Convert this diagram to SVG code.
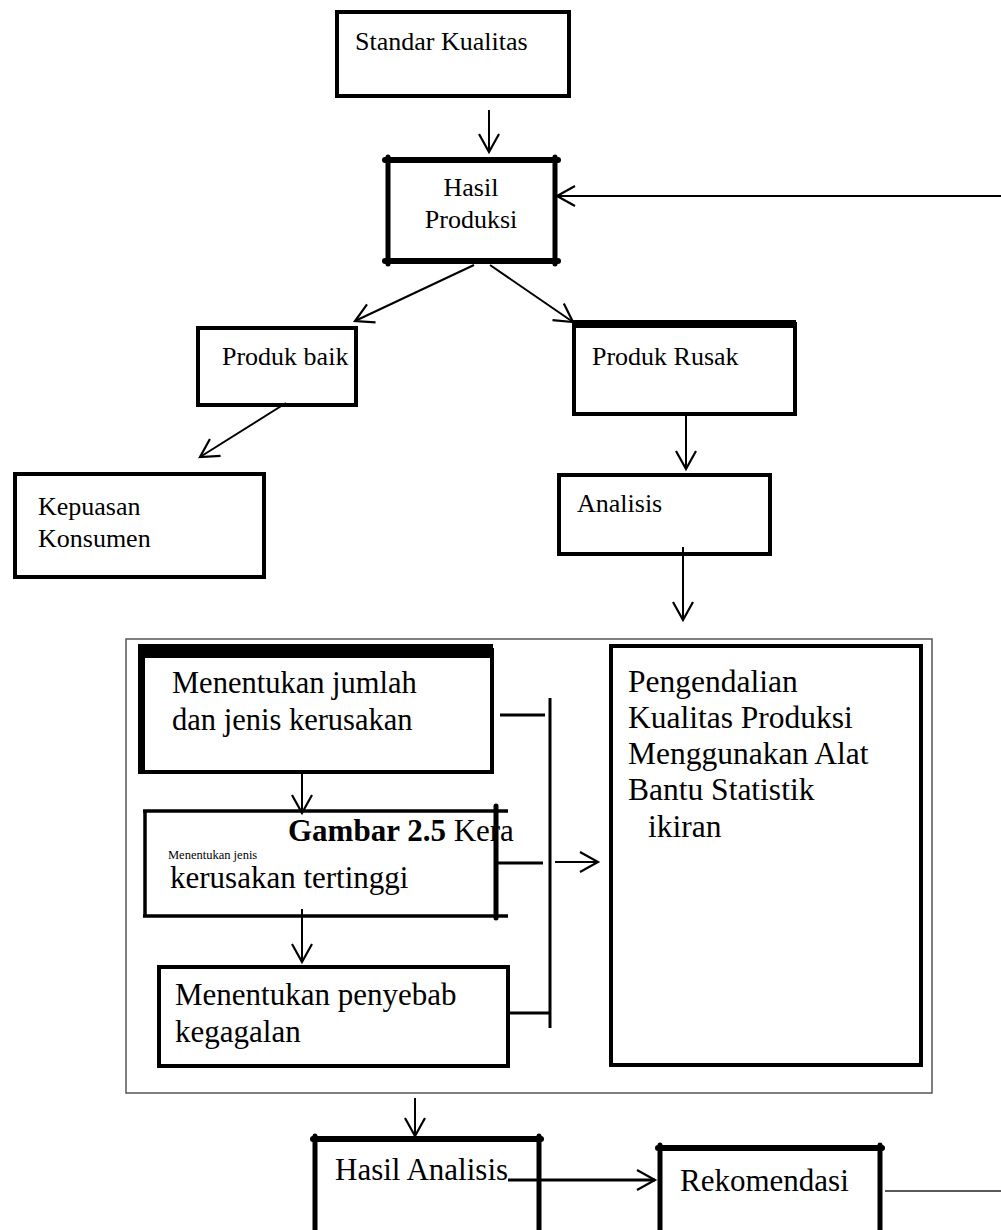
<svg xmlns="http://www.w3.org/2000/svg" width="1001" height="1230" viewBox="0 0 1001 1230">
  <style>
    text { font-family: "Liberation Serif", "Times New Roman", serif; fill: #000; }
    .s26 { font-size: 26px; }
    .s31 { font-size: 31px; }
    .box { fill: #fff; stroke: #000; stroke-width: 4; }
    .thin { fill: #fff; stroke: #000; stroke-width: 3; }
    .bar { stroke: #000; stroke-linecap: round; }
    .edge { fill: none; stroke: #000; stroke-width: 2; }
    .link { fill: none; stroke: #000; stroke-width: 3; }
  </style>
  <defs>
    <marker id="arrow" markerUnits="userSpaceOnUse" markerWidth="24" markerHeight="24" viewBox="0 0 24 24" refX="21" refY="12" orient="auto" overflow="visible">
      <path d="M3,2 L21,12 L3,22" fill="none" stroke="#000" stroke-width="2.2"/>
    </marker>
  </defs>
  <rect width="1001" height="1230" fill="#fff"/>

  <!-- frame around the analysis steps -->
  <g id="analysis-frame">
    <rect x="126" y="639" width="806" height="454" fill="none" stroke="#555" stroke-width="1.5"/>
  </g>

  <g id="standar-kualitas">
    <rect class="box" x="337" y="12" width="232" height="84" stroke-width="5"/>
    <text class="s26" x="355" y="50">Standar Kualitas</text>
  </g>

  <g id="hasil-produksi">
    <rect x="388" y="160" width="167" height="100" fill="#fff"/>
    <line class="bar" x1="388" y1="157" x2="388" y2="264" stroke-width="5"/>
    <line class="bar" x1="555" y1="157" x2="555" y2="264" stroke-width="5"/>
    <line class="bar" x1="385" y1="160" x2="558" y2="160" stroke-width="6"/>
    <line class="bar" x1="385" y1="261" x2="558" y2="261" stroke-width="6"/>
    <text class="s26" x="471" y="196" text-anchor="middle">Hasil</text>
    <text class="s26" x="471" y="228" text-anchor="middle">Produksi</text>
  </g>

  <g id="produk-baik">
    <rect class="box" x="198" y="328" width="158" height="77" stroke-width="3.5"/>
    <text class="s26" x="222" y="365">Produk baik</text>
  </g>

  <g id="produk-rusak">
    <rect class="box" x="574" y="324" width="221" height="90"/>
    <rect x="572" y="320" width="224" height="8" fill="#000"/>
    <text class="s26" x="592" y="365">Produk Rusak</text>
  </g>

  <g id="kepuasan-konsumen">
    <rect class="box" x="15" y="474" width="249" height="103"/>
    <text class="s26" x="38" y="515">Kepuasan</text>
    <text class="s26" x="38" y="547">Konsumen</text>
  </g>

  <g id="analisis">
    <rect class="box" x="559" y="475" width="211" height="79" stroke-width="3.5"/>
    <text class="s26" x="577" y="512">Analisis</text>
  </g>

  <g id="jumlah-jenis">
    <rect class="box" x="141" y="650" width="351" height="122"/>
    <rect x="138" y="644" width="355" height="14" fill="#000"/>
    <rect x="138" y="644" width="7" height="130" fill="#000"/>
    <text class="s31" x="172" y="693" style="font-size:30.5px">Menentukan jumlah</text>
    <text class="s31" x="172" y="730" style="font-size:30.5px">dan jenis kerusakan</text>
  </g>

  <g id="jenis-tertinggi">
    <rect x="145" y="811" width="351" height="105" fill="#fff"/>
    <line x1="145" y1="810" x2="145" y2="917" stroke="#000" stroke-width="3.5"/>
    <line x1="143" y1="811" x2="508" y2="811" stroke="#000" stroke-width="3.5"/>
    <line x1="143" y1="916" x2="508" y2="916" stroke="#000" stroke-width="3.5"/>
    <line class="bar" x1="496" y1="806" x2="496" y2="918" stroke-width="5"/>
    <text x="168" y="859" style="font-size:12.5px">Menentukan jenis</text>
    <text class="s31" x="170" y="888">kerusakan tertinggi</text>
  </g>

  <g id="penyebab-kegagalan">
    <rect class="box" x="159" y="967" width="349" height="99"/>
    <text class="s31" x="175" y="1005">Menentukan penyebab</text>
    <text class="s31" x="175" y="1042">kegagalan</text>
  </g>

  <g id="pengendalian-kualitas">
    <rect class="box" x="611" y="646" width="310" height="419"/>
    <text class="s31" x="628" y="692" style="font-size:31.5px">Pengendalian</text>
    <text class="s31" x="628" y="728" style="font-size:31.5px">Kualitas Produksi</text>
    <text class="s31" x="628" y="764" style="font-size:31.5px">Menggunakan Alat</text>
    <text class="s31" x="628" y="800" style="font-size:31.5px">Bantu Statistik</text>
    <text class="s31" x="648" y="837" style="font-size:31.5px">ikiran</text>
  </g>

  <g id="caption">
    <text class="s31" x="288" y="841"><tspan font-weight="bold">Gambar 2.5</tspan> Kera</text>
  </g>

  <g id="hasil-analisis">
    <rect x="315" y="1139" width="224" height="91" fill="#fff"/>
    <line class="bar" x1="315" y1="1136" x2="315" y2="1232" stroke-width="5"/>
    <line class="bar" x1="539" y1="1136" x2="539" y2="1232" stroke-width="5"/>
    <line class="bar" x1="313" y1="1139" x2="541" y2="1139" stroke-width="6"/>
    <text class="s31" x="335" y="1180">Hasil Analisis</text>
  </g>

  <g id="rekomendasi">
    <rect x="660" y="1148" width="220" height="82" fill="#fff"/>
    <line class="bar" x1="660" y1="1145" x2="660" y2="1232" stroke-width="5"/>
    <line class="bar" x1="880" y1="1145" x2="880" y2="1232" stroke-width="5"/>
    <line class="bar" x1="658" y1="1148" x2="882" y2="1148" stroke-width="6"/>
    <text class="s31" x="680" y="1191">Rekomendasi</text>
  </g>

  <g id="connectors">
    <line class="edge" x1="489" y1="110" x2="489" y2="152" marker-end="url(#arrow)"/>
    <line class="edge" x1="1001" y1="196" x2="557" y2="196" marker-end="url(#arrow)"/>
    <line class="edge" x1="474" y1="265" x2="355" y2="321" marker-end="url(#arrow)"/>
    <line class="edge" x1="490" y1="265" x2="573" y2="322" marker-end="url(#arrow)"/>
    <line class="edge" x1="286" y1="403" x2="200" y2="457" marker-end="url(#arrow)"/>
    <line class="edge" x1="686" y1="415" x2="686" y2="469" marker-end="url(#arrow)"/>
    <line class="edge" x1="683" y1="547" x2="683" y2="620" marker-end="url(#arrow)"/>
    <line class="edge" x1="302" y1="772" x2="302" y2="813" marker-end="url(#arrow)"/>
    <line class="edge" x1="302" y1="909" x2="302" y2="962" marker-end="url(#arrow)"/>
    <line class="link" x1="500" y1="715" x2="545" y2="715"/>
    <line class="link" x1="498" y1="863" x2="543" y2="863"/>
    <line class="link" x1="508" y1="1013" x2="550" y2="1013"/>
    <line class="link" x1="550" y1="698" x2="550" y2="1028"/>
    <line class="edge" x1="555" y1="862" x2="598" y2="862" marker-end="url(#arrow)"/>
    <line class="edge" x1="415" y1="1098" x2="415" y2="1136" marker-end="url(#arrow)"/>
    <line class="link" x1="508" y1="1180" x2="655" y2="1180" marker-end="url(#arrow)"/>
    <line x1="885" y1="1191" x2="1001" y2="1191" stroke="#222" stroke-width="1.5"/>
  </g>
</svg>
